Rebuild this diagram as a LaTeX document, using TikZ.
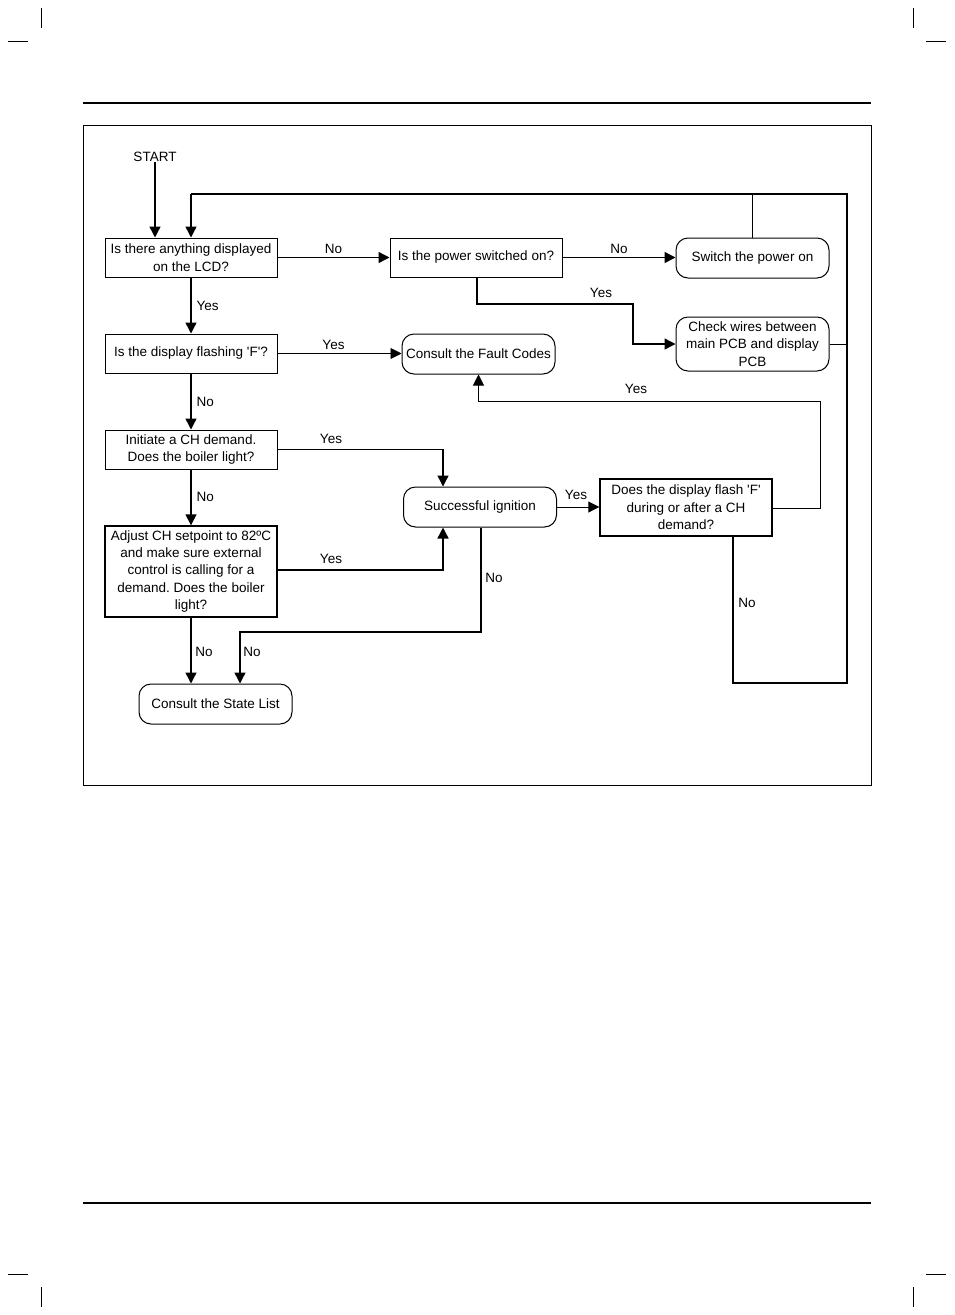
\documentclass[tikz,border=0pt]{standalone}
\usepackage{fontspec}
\setmainfont{Liberation Sans}
\usetikzlibrary{arrows.meta}
\frenchspacing

\begin{document}
\begin{tikzpicture}[x=1pt, y=-1pt,
        every node/.style = {align=center, inner sep=0pt, font=\fontsize{13.5}{17.5}\selectfont},
        box/.style = {draw, line width=1pt, minimum width=172pt, minimum height=39pt},
        rbox/.style = {draw, line width=1pt, rounded corners=12pt, minimum width=153pt, minimum height=40pt},
        lbl/.style = {font=\fontsize{13.5}{15}\selectfont},
        flow/.style = {line width=1.4pt, -{Triangle[length=11pt,width=11pt]}},
        thin/.style = {line width=0.9pt, -{Triangle[length=11pt,width=11pt]}},
        loop/.style = {line width=1.4pt}]
    \useasboundingbox (0,0) rectangle (954,1315);

    % crop marks and page rules
    \draw[line width=0.9pt] (41,8) -- (41,28) (8,41) -- (28,41);
    \draw[line width=0.9pt] (913,8) -- (913,28) (926,41) -- (946,41);
    \draw[line width=0.9pt] (41,1287) -- (41,1307) (8,1274) -- (28,1274);
    \draw[line width=0.9pt] (913,1287) -- (913,1307) (926,1274) -- (946,1274);
    \draw[line width=1.2pt] (83,103) -- (871,103);
    \draw[line width=2pt] (83,1203) -- (871,1203);
    \draw[line width=0.8pt] (83,125) rectangle (871,785);

    % nodes
    \node (start) at (155,157) {START};
    \node[box] (lcd) at (191,257.5) {Is there anything displayed\\on the LCD?};
    \node[box] (power) at (476,257.5) {Is the power switched on?};
    \node[rbox] (switch) at (752.5,258) {Switch the power on};
    \node[rbox, minimum height=54pt] (wires) at (752.5,344) {Check wires between\\main PCB and display\\PCB};
    \node[box] (flashF) at (191,353.5) {Is the display flashing \textquotesingle F\textquotesingle?};
    \node[rbox] (fault) at (478.5,354) {Consult the Fault Codes};
    \node[box] (demand) at (191,449.5) {Initiate a CH demand.\\Does the boiler light?};
    \node[rbox] (ignition) at (480,507) {Successful ignition};
    \node[box, line width=1.4pt, minimum height=57pt] (during) at (686,507.5) {Does the display flash \textquotesingle F\textquotesingle\\during or after a CH\\demand?};
    \node[box, line width=1.4pt, minimum height=91pt] (adjust) at (191,571.5) {Adjust CH setpoint to 82ºC\\and make sure external\\control is calling for a\\demand. Does the boiler\\light?};
    \node[rbox] (state) at (215.5,704) {Consult the State List};

    % return loop
    \coordinate (c1) at (733,683);
    \coordinate (c2) at (847,683);
    \coordinate (c3) at (847,194);
    \coordinate (c4) at (191,194);
    \draw[loop] (during.south -| c1) -- (c1) -- (c2) -- (c3) -- (c4);
    \draw[flow] (c4) -- (lcd.north -| c4);
    \draw[loop] (switch.north) -- (switch.north |- c3);
    \draw[line width=0.9pt] (wires.east) -- (wires.east -| c3);

    % connectors
    \draw[flow] (start) -- (lcd.north -| start);
    \draw[flow] (lcd) -- node[lbl, above=3pt] {No} (power);
    \draw[flow] (power.east) -- node[lbl, above=3pt] {No} (power.east -| switch.west);
    \coordinate (y1) at (477,304);
    \coordinate (y2) at (633,304);
    \draw[flow] (power.south -| y1) -- (y1) -- (y2) -- (y2 |- wires) -- (wires.west);
    \node[lbl] at (601,293) {Yes};
    \draw[flow] (lcd) -- node[lbl, right=5pt] {Yes} (flashF);
    \draw[thin] (flashF.east) -- node[lbl, above=3pt, xshift=-6pt] {Yes} (flashF.east -| fault.west);
    \draw[flow] (flashF) -- node[lbl, right=5pt] {No} (demand);
    \coordinate (m1) at (443,449.5);
    \draw[flow] (demand.east) -- (m1) -- (ignition.north -| m1);
    \node[lbl] at (331,439) {Yes};
    \draw[flow] (demand) -- node[lbl, right=5pt] {No} (adjust);
    \coordinate (m2) at (443,570);
    \draw[flow] (adjust.east |- m2) -- (m2) -- (ignition.south -| m2);
    \node[lbl] at (331,559) {Yes};
    \draw[thin] (ignition.east) -- (ignition.east -| during.west);
    \node[lbl] at (576,495) {Yes};
    \coordinate (r1) at (820,508);
    \coordinate (r2) at (820,401);
    \draw[thin] (during.east |- r1) -- (r1) -- (r2) -- (r2 -| fault.south) -- (fault.south);
    \node[lbl] at (636,389) {Yes};
    \coordinate (s1) at (481,632);
    \coordinate (s2) at (240,632);
    \draw[flow] (ignition.south -| s1) -- (s1) -- (s2) -- (state.north -| s2);
    \node[lbl] at (494,578) {No};
    \node[lbl] at (252,652) {No};
    \draw[flow] (adjust.south) -- (adjust.south |- state.north);
    \node[lbl] at (204,652) {No};
    \node[lbl] at (747,603) {No};
\end{tikzpicture}
\end{document}
